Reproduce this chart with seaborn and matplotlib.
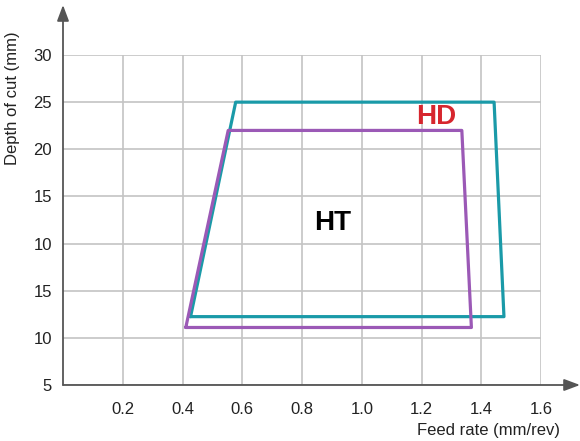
import matplotlib
matplotlib.use("Agg")
import matplotlib.pyplot as plt
import seaborn as sns
import pandas as pd

# Data (y values are in axis position units: ticks at 5..40, labelled as in the reference)
y_tick_pos = [5, 10, 15, 20, 25, 30, 35, 40]
y_tick_labels = ["5", "10", "15", "10", "15", "20", "25", "30"]
x_ticks = [0.2, 0.4, 0.6, 0.8, 1.0, 1.2, 1.4, 1.6]
x_tick_labels = ["0.2", "0.4", "0.6", "0.8", "1.0", "1.2", "1.4", "1.6"]

hd_feed = [0.427, 0.578, 1.443, 1.476, 0.427]
hd_depth = [12.25, 35.0, 35.0, 12.25, 12.25]
ht_feed = [0.411, 0.553, 1.335, 1.367, 0.411]
ht_depth = [11.1, 32.0, 32.0, 11.1, 11.1]

sns.set_theme(style="whitegrid")
plt.rcParams['font.family'] = ['Liberation Sans', 'DejaVu Sans']

df = pd.concat([
    pd.DataFrame({"feed": hd_feed, "depth": hd_depth, "grade": "HD", "order": range(5)}),
    pd.DataFrame({"feed": ht_feed, "depth": ht_depth, "grade": "HT", "order": range(5)}),
])

fig = plt.figure(figsize=(5.8, 4.41), dpi=100)
ax = fig.add_axes([63/580, 1-385/441, (541-63)/580, (385-55)/441])

sns.lineplot(data=df, x="feed", y="depth", hue="grade", units="grade", estimator=None,
             sort=False, palette={"HD": "#1a9aa8", "HT": "#9b59b6"}, lw=2.3,
             legend=False, ax=ax)

ax.set_xlim(0, 1.6)
ax.set_ylim(5, 40)
ax.set_xticks(x_ticks)
ax.set_xticklabels(x_tick_labels)
ax.set_yticks(y_tick_pos)
ax.set_yticklabels(y_tick_labels)
ax.tick_params(axis="both", length=0, labelsize=12, colors="#222222")
ax.tick_params(axis="x", pad=12)
ax.tick_params(axis="y", pad=8)
ax.grid(True, color="#c4c4c4", lw=1.2)
ax.set_xlabel("")
ax.set_ylabel("")
for s in ax.spines.values():
    s.set_visible(False)
ax.set_facecolor("white")

# Axis arrows
ax.annotate("", xy=(1 + (580-541)/478, 0), xytext=(0, 0), xycoords="axes fraction",
            textcoords="axes fraction",
            arrowprops=dict(arrowstyle="-|>,head_length=0.8,head_width=0.3", color="#555555", lw=1.3,
                            shrinkA=0, shrinkB=0), annotation_clip=False)
ax.annotate("", xy=(0, 1 + (55-5)/330), xytext=(0, 0), xycoords="axes fraction",
            textcoords="axes fraction",
            arrowprops=dict(arrowstyle="-|>,head_length=0.8,head_width=0.3", color="#555555", lw=1.3,
                            shrinkA=0, shrinkB=0), annotation_clip=False)

ax.text(1.25, 33.4, "HD", color="#d7262e", fontsize=20, fontweight="bold", ha="center", va="center")
ax.text(0.904, 22.15, "HT", color="black", fontsize=20, fontweight="bold", ha="center", va="center")

fig.text(13/580, 1-98/441, "Depth of cut (mm)", rotation=90, ha="center", va="center",
         fontsize=12, color="#222222")
fig.text(560/580, 1-431/441, "Feed rate (mm/rev)", ha="right", va="center",
         fontsize=12, color="#222222")

fig.savefig("out.png", dpi=100, facecolor="white")
